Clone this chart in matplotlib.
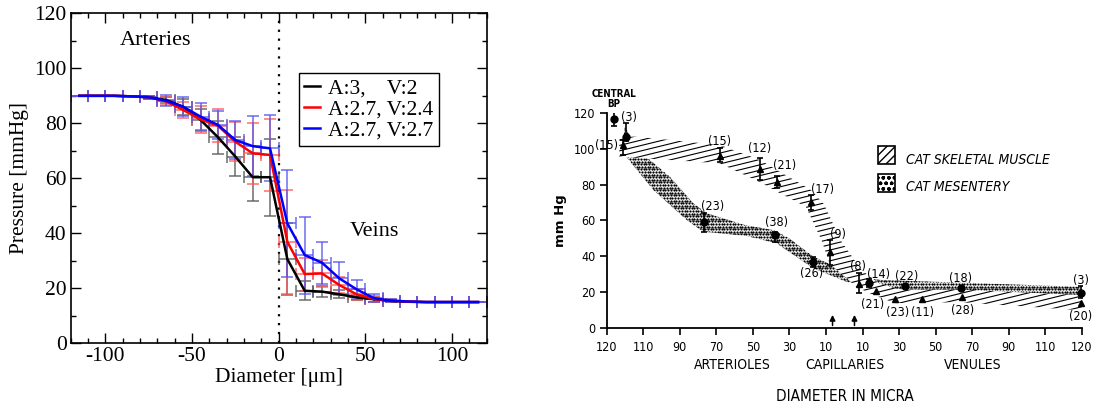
import numpy as np
import matplotlib.pyplot as plt
from matplotlib.patches import Polygon
from matplotlib.ticker import MultipleLocator

plt.rcParams['axes.unicode_minus'] = False

# ---------------- left panel data ----------------
diam = [-115, -105, -95, -85, -75, -65, -55, -45, -35, -25, -15, -5,
        5, 15, 25, 35, 45, 55, 65, 75, 85, 95, 105, 115]
p_black = [90, 90, 90, 89.8, 89.5, 88.5, 86.0, 81.2, 74.9, 67.9, 60.4, 60.4,
           30.6, 19.1, 18.8, 17.8, 16.7, 16.0, 15.4, 15.1, 15, 15, 15, 15]
e_black = [0, 0, 0, 0, 0.5, 1, 3, 4, 6, 7, 8.5, 14,
           13, 3.5, 2, 1.5, 1, 1, 0.5, 0, 0, 0, 0, 0]
p_red = [90, 90, 90, 89.8, 89.5, 88.0, 84.8, 81.4, 79.1, 73.3, 69.1, 68.5,
         36.9, 25.2, 25.4, 21.2, 17.8, 16.1, 15.5, 15.2, 15, 15, 15, 15]
e_red = [0, 0, 0, 0, 0.5, 1.5, 3, 5, 6, 7, 11, 13,
         19, 6, 5, 3, 2, 1, 0.5, 0, 0, 0, 0, 0]
p_blue = [90, 90, 90, 89.8, 89.5, 88.2, 86.0, 82.4, 79.4, 73.9, 71.7, 70.9,
          43.6, 32.1, 29.3, 23.6, 19.6, 16.4, 15.5, 15.2, 15, 15, 15, 15]
e_blue = [0, 0, 0, 0, 0.5, 2, 3.5, 5, 5, 7, 11, 12,
          19.5, 14, 7.6, 6, 3.5, 1.5, 0.5, 0, 0, 0, 0, 0]
diam_err = 5
series = [("A:3,    V:2", p_black, e_black, "black", "#555555"),
          ("A:2.7, V:2.4", p_red, e_red, "red", "#ff5555"),
          ("A:2.7, V:2.7", p_blue, e_blue, "blue", "#5555ee")]

# ---------------- right panel data (scanned figure) ----------------
xtick_labels = ["120", "110", "90", "70", "50", "30", "10", "10", "30", "50",
                "70", "90", "110", "120"]
central_x, central_y, central_lo, central_hi = 0.2, 116.5, 112.7, 120.2

musc_x = [0.44, 3.10, 4.19, 4.67, 5.59, 6.11, 6.91, 7.38, 7.88, 8.63, 9.73, 12.96]
musc_y = [102.0, 95.9, 88.5, 81.6, 70.3, 42.6, 24.5, 20.8, 16.3, 16.3, 17.3, 13.9]
musc_lo = [96.5, 92.7, 82.5, 78.2, 65.8, 35.2, 19.5, None, None, None, None, None]
musc_hi = [104.8, 100.2, 94.9, 84.8, 74.2, 49.1, 30.6, None, None, None, None, None]
musc_n = [15, 15, 12, 21, 17, 9, 8, 21, 23, 11, 28, 20]

mes_x = [0.53, 2.67, 4.60, 5.65, 7.18, 8.17, 9.69, 12.96]
mes_y = [106.6, 59.0, 51.9, 37.1, 25.0, 23.5, 22.6, 19.8]
mes_lo = [104.0, 53.8, 48.2, 34.3, 23.1, None, None, 16.7]
mes_hi = [114.2, 64.0, 53.8, 39.8, 27.3, None, None, 23.5]
mes_n = [3, 23, 38, 26, 14, 22, 18, 3]

# band outlines
musc_top = [(0.35, 107), (0.9, 106.5), (3.1, 102), (4.19, 93.7), (4.67, 88),
            (5.59, 77), (5.95, 69), (6.4, 49), (6.97, 32.4), (7.45, 25),
            (8.0, 21.5), (9.7, 21.5), (13.0, 18.5)]
musc_bot = [(0.35, 95.5), (3.1, 91.8), (4.19, 81.4), (4.67, 76), (5.45, 67.7),
            (5.88, 49), (6.1, 36), (6.84, 23), (7.3, 18.5), (7.9, 14),
            (9.7, 14.5), (13.0, 10)]
mes_top = [(0.5, 112), (0.75, 104), (1.10, 95.2), (1.73, 84.4), (2.37, 69.6),
           (2.74, 64), (3.78, 57.5), (4.6, 54.5), (5.0, 50), (5.65, 40),
           (6.84, 28.7), (7.48, 26.9), (9.67, 25.4), (12.94, 23.1)]
mes_bot = [(0.45, 104), (0.5, 96.4), (1.28, 77), (2.19, 60.3), (2.64, 53.8),
           (3.83, 51.4), (4.65, 47.3), (5.65, 33.4), (6.56, 25.9), (7.47, 22.3),
           (9.66, 20.4), (12.94, 17.6)]
capillary_arrows = [6.18, 6.78]
group_labels = [("ARTERIOLES", 3.45), ("CAPILLARIES", 6.53), ("VENULES", 10.0)]

# label offsets (points) for the (n) annotations
musc_off = [(-3, 0, 'right', 'center'), (0, 6, 'center', 'bottom'), (0, 10, 'center', 'bottom'),
            (5, 7, 'center', 'bottom'), (8, 4, 'center', 'bottom'), (6, 8, 'center', 'bottom'),
            (-1, 8, 'center', 'bottom'), (-3, -5, 'center', 'top'), (2, -5, 'center', 'top'),
            (0, -5, 'center', 'top'), (0, -5, 'center', 'top'), (0, -5, 'center', 'top')]
mes_off = [(2, 9, 'center', 'bottom'), (6, 7, 'center', 'bottom'), (1, 4, 'center', 'bottom'),
           (-1, -4, 'center', 'top'), (7, 2, 'center', 'bottom'), (1, 2, 'center', 'bottom'),
           (0, 2, 'center', 'bottom'), (0, 4, 'center', 'bottom')]

fig = plt.figure(figsize=(10.94, 4.12), dpi=100)

# ================= left panel =================
serif = ['Liberation Serif', 'DejaVu Serif']
ax1 = fig.add_axes([0.0646, 0.1667, 0.3803, 0.801])
for label, p, e, c, ec in series:
    ax1.errorbar(diam, p, yerr=e, xerr=diam_err, fmt='none', ecolor=ec,
                 elinewidth=1.1, capsize=4, capthick=1.1, alpha=0.85, zorder=2)
for label, p, e, c, ec in series:
    ax1.plot(diam, p, color=c, lw=1.8, label=label, zorder=3)
ax1.axvline(0, color='black', ls=(0, (1, 3)), lw=1.6, zorder=1)
ax1.set_xlim(-120, 120)
ax1.set_ylim(0, 120)
ax1.xaxis.set_major_locator(MultipleLocator(50))
ax1.xaxis.set_minor_locator(MultipleLocator(10))
ax1.yaxis.set_major_locator(MultipleLocator(20))
ax1.yaxis.set_minor_locator(MultipleLocator(10))
ax1.tick_params(which='both', direction='in', top=True, right=True, width=1)
ax1.tick_params(which='major', length=7, labelsize=15.5, pad=3)
ax1.tick_params(which='minor', length=3.5)
for t in ax1.get_xticklabels() + ax1.get_yticklabels():
    t.set_family(serif)
for s in ax1.spines.values():
    s.set_linewidth(1.2)
ax1.set_xlabel("Diameter [\u03bcm]", family=serif, fontsize=15.5, labelpad=1)
ax1.set_ylabel("Pressure [mmHg]", family=serif, fontsize=15.5, labelpad=4)
ax1.text(-71, 110, "Arteries", family=serif, fontsize=16, ha='center', va='center')
ax1.text(55, 40.5, "Veins", family=serif, fontsize=16, ha='center', va='center')
leg = ax1.legend(loc='upper left', bbox_to_anchor=(0.549, 0.819), prop={'family': serif, 'size': 15.5},
                 handlelength=0.7, handletextpad=0.4, labelspacing=0.05, borderpad=0.25,
                 borderaxespad=0, fancybox=False, framealpha=1, edgecolor='black')
leg.get_frame().set_linewidth(1.0)

# ================= right panel =================
sans = ['DejaVu Sans']
tfont = dict(family=sans, stretch='condensed')
ax2 = fig.add_axes([0.5544, 0.2032, 0.4346, 0.5233])
ax2.set_xlim(0, 13)
ax2.set_ylim(0, 120)
for s in ['top', 'right']:
    ax2.spines[s].set_visible(False)
ax2.spines['left'].set_linewidth(1.3)
ax2.spines['bottom'].set_linewidth(1.3)
ax2.set_xticks(range(len(xtick_labels)))
ax2.set_xticklabels(xtick_labels)
ax2.set_yticks(range(0, 121, 20))
ax2.tick_params(direction='out', length=5, width=1.2, labelsize=9, pad=3)
ax2.tick_params(axis='x', pad=4)
for t in ax2.get_xticklabels() + ax2.get_yticklabels():
    t.set_family(sans)
    t.set_stretch('condensed')
ax2.set_ylabel("mm Hg", family=sans, fontsize=9.5, fontweight='bold', labelpad=5)

# mesentery: dotted band
mes_poly = Polygon(mes_top + mes_bot[::-1], closed=True, fc='none', ec='none')
ax2.add_patch(mes_poly)
gx, gy = np.meshgrid(np.arange(0, 13.2, 0.075), np.arange(0, 125, 1.45))
gx[1::2] += 0.037
dots = ax2.scatter(gx.ravel(), gy.ravel(), s=2.6, color='black', lw=0, zorder=2)
dots.set_clip_path(mes_poly)

# skeletal muscle: shallow hatch lines
musc_poly = Polygon(musc_top + musc_bot[::-1], closed=True, fc='white', ec='none', zorder=2.5)
ax2.add_patch(musc_poly)
hx = np.array([0, 13.5])
for y0 in np.arange(-80, 125, 3.0):
    ln, = ax2.plot(hx, y0 + 5.0 * hx, color='black', lw=0.8, zorder=3)
    ln.set_clip_path(musc_poly)

# points + error bars
def draw_points(xs, ys, lo, hi, marker):
    for x, y, l, h in zip(xs, ys, lo, hi):
        if l is not None:
            ax2.errorbar([x], [y], yerr=[[y - l], [h - y]], fmt='none', ecolor='black',
                         elinewidth=1.2, capsize=2.5, capthick=1.2, zorder=4)
    ax2.plot(xs, ys, ls='none', marker=marker, ms=5, color='black', zorder=5, clip_on=False)

draw_points(musc_x, musc_y, musc_lo, musc_hi, '^')
draw_points(mes_x, mes_y, mes_lo, mes_hi, 'o')
draw_points([central_x], [central_y], [central_lo], [central_hi], 'o')

for xs, ys, ns, offs in [(musc_x, musc_y, musc_n, musc_off), (mes_x, mes_y, mes_n, mes_off)]:
    for x, y, n, (dx, dy, ha, va) in zip(xs, ys, ns, offs):
        ax2.annotate("(%d)" % n, (x, y), xytext=(dx, dy), textcoords='offset points',
                     ha=ha, va=va, fontsize=9, annotation_clip=False, **tfont)

ax2.annotate("CENTRAL\nBP", (central_x, central_y), xytext=(0, 7), textcoords='offset points',
             ha='center', va='bottom', fontsize=7, fontweight='bold', linespacing=1.0,
             annotation_clip=False, **tfont)

for ax_x in capillary_arrows:
    ax2.annotate("", xy=(ax_x, 9), xytext=(ax_x, 0),
                 arrowprops=dict(arrowstyle='-|>', color='black', lw=1.1, mutation_scale=8))

tr = ax2.get_xaxis_transform()
for name, gxpos in group_labels:
    ax2.text(gxpos, -0.17, name, transform=tr, ha='center', va='center',
             fontsize=10, **tfont)
ax2.text(6.53, -0.315, "DIAMETER IN MICRA", transform=tr, ha='center', va='center',
         fontsize=11, **tfont)

# legend of the scanned figure
lg_hatch = Polygon([(7.42, 101.4), (7.88, 101.4), (7.88, 91.4), (7.42, 91.4)], closed=True,
                   fc='white', ec='black', lw=1.2, hatch='////', zorder=3)
ax2.add_patch(lg_hatch)
lg_dots = Polygon([(7.42, 85.9), (7.88, 85.9), (7.88, 75.9), (7.42, 75.9)], closed=True,
                  fc='white', ec='black', lw=1.2, hatch='ooo', zorder=3)
ax2.add_patch(lg_dots)
ax2.text(8.18, 93.7, "CAT SKELETAL MUSCLE", ha='left', va='center', fontsize=10,
         style='italic', **tfont)
ax2.text(8.18, 78.6, "CAT MESENTERY", ha='left', va='center', fontsize=10,
         style='italic', **tfont)

fig.savefig("out.png", dpi=100)
